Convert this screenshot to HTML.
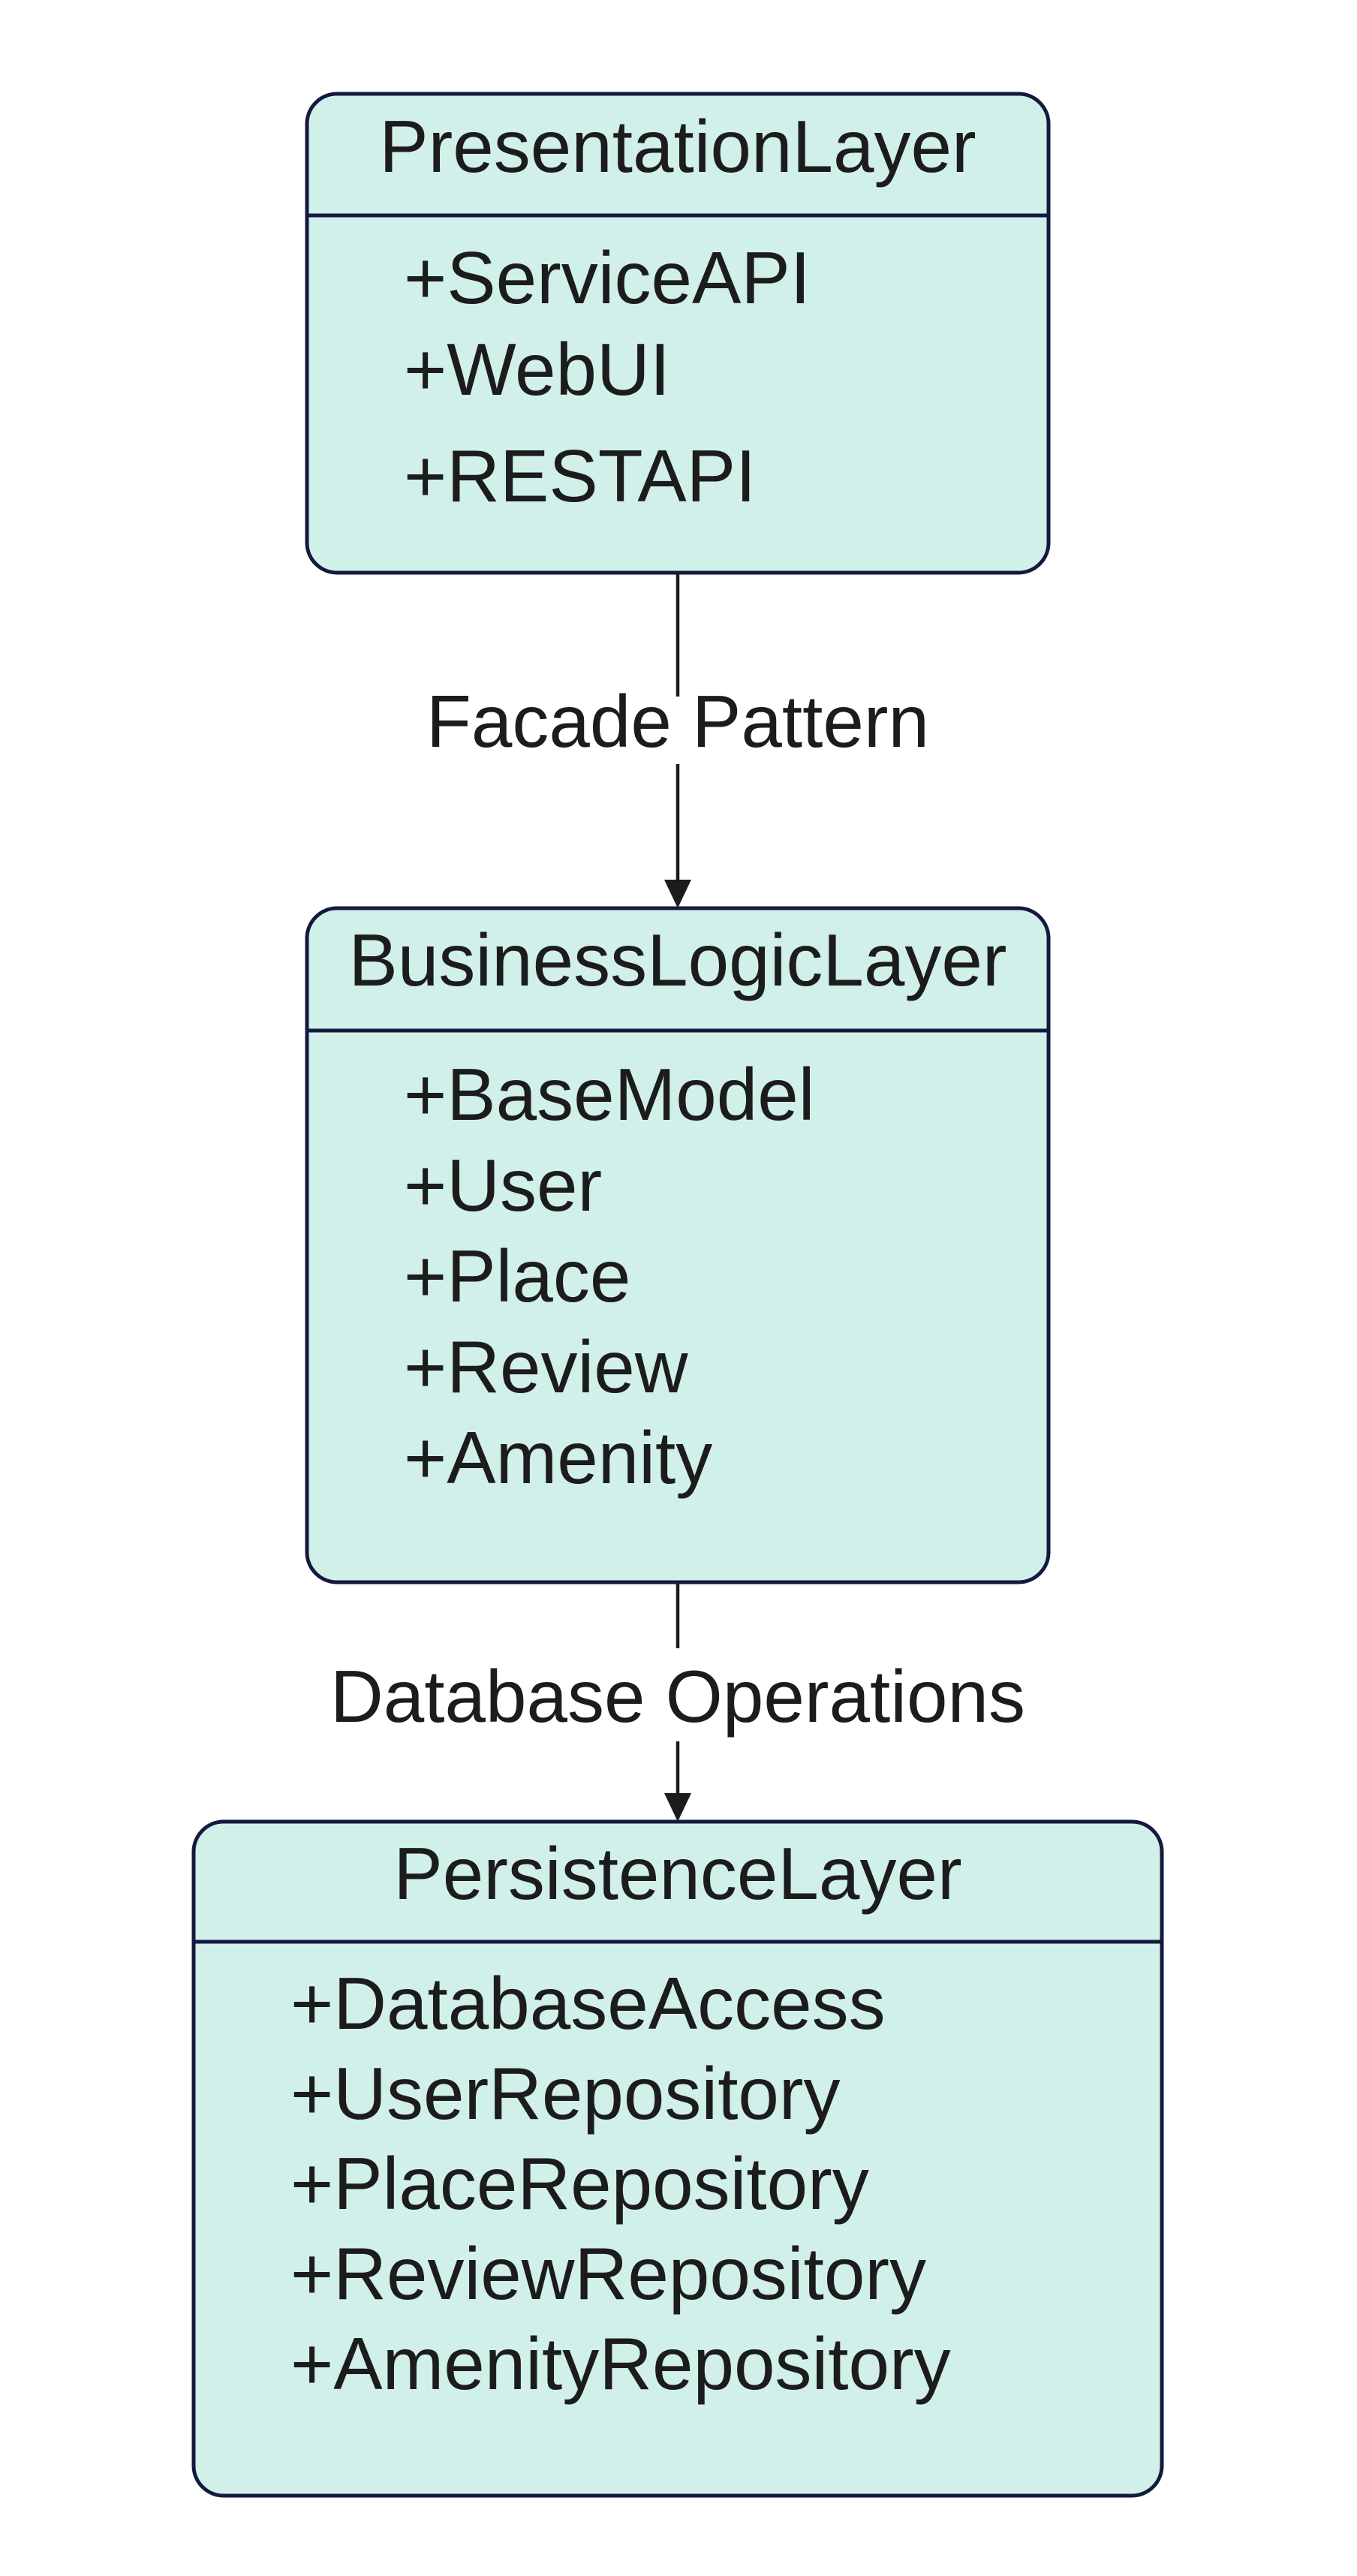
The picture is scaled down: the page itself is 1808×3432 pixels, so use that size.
<!DOCTYPE html>
<html><head><meta charset="utf-8"><style>
html,body{margin:0;padding:0;background:#fff;}
svg{display:block;}
text{font-family:"Liberation Sans",Arial,sans-serif;font-size:98px;fill:#1c1c1c;}
</style></head><body>
<svg width="1808" height="3432" viewBox="0 0 1808 3432" xmlns="http://www.w3.org/2000/svg">
<rect width="1808" height="3432" fill="#fff"/>
<!-- Box 1 -->
<rect x="409" y="125" width="988" height="638" rx="40" fill="#d1f0e9" stroke="#14193f" stroke-width="5"/>
<line x1="409" y1="287" x2="1397" y2="287" stroke="#14193f" stroke-width="5"/>
<text x="903" y="229" text-anchor="middle">PresentationLayer</text>
<text x="538" y="404">+ServiceAPI</text>
<text x="538" y="526">+WebUI</text>
<text x="538" y="668">+RESTAPI</text>
<!-- Arrow 1 -->
<line x1="903" y1="763" x2="903" y2="928" stroke="#1c1c1c" stroke-width="4.5"/>
<line x1="903" y1="1018" x2="903" y2="1175" stroke="#1c1c1c" stroke-width="4.5"/>
<polygon points="885,1172 921,1172 903,1210" fill="#1c1c1c"/>
<text x="903" y="995" text-anchor="middle">Facade Pattern</text>
<!-- Box 2 -->
<rect x="409" y="1210" width="988" height="898" rx="40" fill="#d1f0e9" stroke="#14193f" stroke-width="5"/>
<line x1="409" y1="1373" x2="1397" y2="1373" stroke="#14193f" stroke-width="5"/>
<text x="903" y="1313" text-anchor="middle">BusinessLogicLayer</text>
<text x="538" y="1492">+BaseModel</text>
<text x="538" y="1613">+User</text>
<text x="538" y="1734">+Place</text>
<text x="538" y="1855">+Review</text>
<text x="538" y="1976">+Amenity</text>
<!-- Arrow 2 -->
<line x1="903" y1="2108" x2="903" y2="2196" stroke="#1c1c1c" stroke-width="4.5"/>
<line x1="903" y1="2320" x2="903" y2="2392" stroke="#1c1c1c" stroke-width="4.5"/>
<polygon points="885,2389 921,2389 903,2427" fill="#1c1c1c"/>
<text x="903" y="2294" text-anchor="middle">Database Operations</text>
<!-- Box 3 -->
<rect x="258" y="2427" width="1290" height="898" rx="40" fill="#d1f0e9" stroke="#14193f" stroke-width="5"/>
<line x1="258" y1="2587" x2="1548" y2="2587" stroke="#14193f" stroke-width="5"/>
<text x="903" y="2530" text-anchor="middle">PersistenceLayer</text>
<text x="387" y="2703">+DatabaseAccess</text>
<text x="387" y="2823">+UserRepository</text>
<text x="387" y="2943">+PlaceRepository</text>
<text x="387" y="3063">+ReviewRepository</text>
<text x="387" y="3183">+AmenityRepository</text>
</svg>
</body></html>
